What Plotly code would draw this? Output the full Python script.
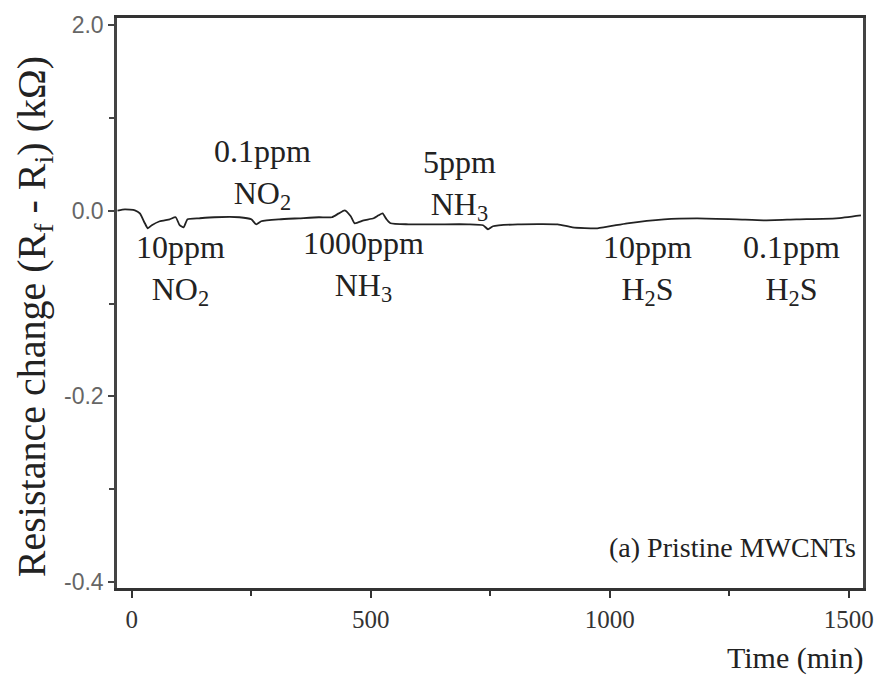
import plotly.graph_objects as go

# ---- data ----
time_min = [-30, -14.4, 6.5, 16.9, 27.3, 33.5, 41.8, 58.5, 79.3, 91.8, 100.1, 108.4, 116.7,
            141.7, 172.9, 225, 250, 260.4, 270.8, 308.3, 349.9, 391.5, 418.6, 433.2, 445.6,
            458.1, 466.4, 485.2, 506, 516.4, 524.7, 533, 541.3, 578.8, 641.2, 703.7, 734.9,
            745.3, 755.7, 807.7, 891, 922.2, 974.2, 1036.6, 1113.7, 1182.4, 1265.6, 1321.8,
            1390.5, 1473.7, 1525.7]
resistance_change = [0.000, 0.0014, 0.0004, -0.0029, -0.0136, -0.019, -0.0157, -0.0114, -0.0093,
                     -0.0071, -0.0157, -0.0179, -0.0093, -0.0082, -0.0071, -0.0071, -0.0093,
                     -0.0147, -0.0114, -0.0093, -0.0082, -0.0071, -0.0071, -0.0029, 0.0004,
                     -0.006, -0.0136, -0.0104, -0.0082, -0.005, -0.0029, -0.0093, -0.0136,
                     -0.0147, -0.0147, -0.0147, -0.0157, -0.020, -0.0168, -0.0147, -0.0147,
                     -0.0179, -0.019, -0.0136, -0.0093, -0.0082, -0.0093, -0.0104, -0.0093,
                     -0.0082, -0.005]

y_tick_vals = [0.2, 0.0, -0.2, -0.4]
y_tick_text = ["2.0", "0.0", "-0.2", "-0.4"]
y_minor_vals = [0.1, -0.1, -0.3]
x_tick_vals = [0, 500, 1000, 1500]
x_tick_text = ["0", "500", "1000", "1500"]
x_minor_vals = [250, 750, 1250]

# gas exposure labels
label_conc = ["10ppm", "0.1ppm", "1000ppm", "5ppm", "10ppm", "0.1ppm"]
label_gas = ["NO<sub>2</sub>", "NO<sub>2</sub>", "NH<sub>3</sub>", "NH<sub>3</sub>",
             "H<sub>2</sub>S", "H<sub>2</sub>S"]
label_x = [102, 274, 485, 685, 1080, 1381]
label_y = [-0.0635, 0.040, -0.060, 0.0272, -0.0635, -0.0635]

SERIF = "Liberation Serif, Times New Roman, serif"
SANS = "Liberation Sans, Arial, sans-serif"

fig = go.Figure()
fig.add_trace(go.Scatter(
    x=time_min, y=resistance_change, mode="lines",
    line=dict(color="#222222", width=1.8, shape="spline", smoothing=0.5),
    hoverinfo="skip", showlegend=False))

annotations = []
for c, g, xl, yl in zip(label_conc, label_gas, label_x, label_y):
    annotations.append(dict(x=xl, y=yl, xref="x", yref="y", text=c + "<br>" + g,
                            showarrow=False, align="center",
                            font=dict(family=SERIF, size=32, color="#222")))

annotations.append(dict(x=0.9933, y=-0.3624, xref="paper", yref="y",
                        text="(a) Pristine MWCNTs", showarrow=False,
                        xanchor="right", yanchor="middle",
                        font=dict(family=SERIF, size=28, color="#222")))
annotations.append(dict(x=1.003, y=-0.122, xref="paper", yref="paper",
                        text="Time (min)", showarrow=False,
                        xanchor="right", yanchor="middle",
                        font=dict(family=SERIF, size=30, color="#222")))
annotations.append(dict(x=-0.112, y=0.476, xref="paper", yref="paper",
                        text="Resistance change (R<sub>f</sub> - R<sub>i</sub>) (kΩ)",
                        showarrow=False, textangle=-90,
                        xanchor="center", yanchor="middle",
                        font=dict(family=SERIF, size=40, color="#222")))

fig.update_layout(
    width=886, height=681,
    margin=dict(l=117, r=19, t=16, b=93),
    paper_bgcolor="white", plot_bgcolor="white",
    annotations=annotations,
    xaxis=dict(range=[-31, 1530], showgrid=False, zeroline=False,
               showline=True, linecolor="#333", linewidth=2.5, mirror=True,
               ticks="outside", ticklen=7, tickwidth=1.5, tickcolor="#333",
               tickmode="array", tickvals=x_tick_vals, ticktext=x_tick_text,
               tickfont=dict(family=SERIF, size=25, color="#333"),
               minor=dict(tickvals=x_minor_vals, ticks="outside", ticklen=5,
                          tickwidth=1.5, tickcolor="#333")),
    yaxis=dict(range=[-0.4064, 0.2075], showgrid=False, zeroline=False,
               showline=True, linecolor="#444", linewidth=2.5, mirror=True,
               ticks="outside", ticklen=6, tickwidth=1.5, tickcolor="#444",
               tickmode="array", tickvals=y_tick_vals, ticktext=y_tick_text,
               ticklabelstandoff=0,
               tickfont=dict(family=SANS, size=23, color="#666"),
               minor=dict(tickvals=y_minor_vals, ticks="outside", ticklen=5,
                          tickwidth=1.5, tickcolor="#444")),
)

fig.write_html("out.html")
